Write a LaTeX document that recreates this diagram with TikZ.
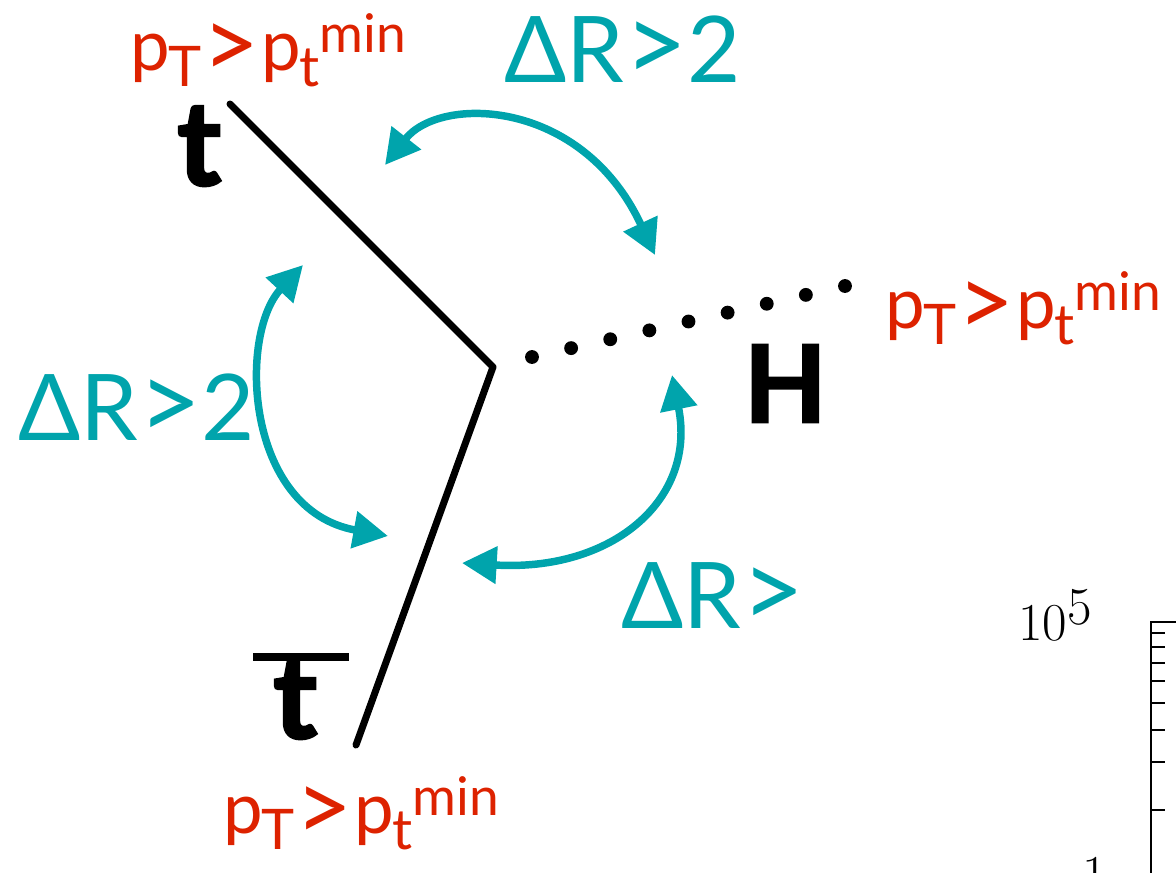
\documentclass[tikz,border=0pt]{standalone}
\usepackage{fontspec}
\setmainfont{Lato}
\newfontfamily\lmfont{Latin Modern Roman}
\newfontfamily\heavyfont[FakeBold=2.5]{Lato}
\usetikzlibrary{arrows.meta,calc}
\definecolor{ptred}{HTML}{DD2200}
\definecolor{drteal}{HTML}{00A4AC}
\newcommand{\mainsz}{\fontsize{53}{56}\selectfont}
\newcommand{\subsz}{\fontsize{42}{45}\selectfont}
\newcommand{\gtsz}{\fontsize{69}{72}\selectfont}
\newcommand{\tealgt}{{\fontsize{82}{84}\selectfont >}}
\newcommand{\ptmin}{{\mainsz p\kern-1pt\raisebox{-12pt}{\subsz T}\kern1pt\raisebox{-6pt}{\fontsize{74}{76}\selectfont >}\kern1pt p\kern-1pt\raisebox{-12pt}{\subsz t}\raisebox{13pt}{\fontsize{40}{42}\selectfont min}}}
\tikzset{
  ptlab/.style={text=ptred, inner sep=0pt, anchor=base west},
  drlab/.style={text=drteal, inner sep=0pt, anchor=base west, font=\gtsz},
  partlab/.style={inner sep=0pt, anchor=base west, font=\heavyfont\bfseries\fontsize{80}{84}\selectfont},
  quark/.style={line width=5.25pt, line cap=round, line join=round},
  drarrow/.style={draw=drteal, line width=5.6pt,
    {Triangle[length=26pt,width=27pt]}-{Triangle[length=26pt,width=27pt]}},
  axisline/.style={line width=1.8pt}
}
\begin{document}
\begin{tikzpicture}[x=0.75pt,y=-0.75pt]
\useasboundingbox (0,0) rectangle (1176,872);
% labels
\node[ptlab] (pt1) at (130,70) {\ptmin};
\node[ptlab] (pt2) at (885,328) {\ptmin};
\node[ptlab] (pt3) at (223,833) {\ptmin};
\node[drlab] (dr1) at (504,82) {ΔR\tealgt2};
\node[drlab] (dr2) at (18,440) {ΔR\tealgt2};
\node[drlab] (dr3) at (621,628) {ΔR\tealgt};
\node[partlab, font=\heavyfont\bfseries\fontsize{88}{90}\selectfont] (t) at (177,185) {t};
\node[partlab, font=\heavyfont\bfseries\fontsize{88}{90}\selectfont] (tb) at (273,738) {t};
\draw[line width=6.5pt] ($(tb.base west)+(-20,-81)$) -- ($(tb.base west)+(76,-81)$);
\node[partlab] (H) at (744,422) {H};
% particle lines
\coordinate (v) at (493,367);
\coordinate (tend) at (230,104);
\coordinate (tbend) at (356,745);
\draw[quark] (tend) -- (v) -- (tbend);
\coordinate (h0) at (532,357);
\coordinate (h1) at (845,286);
\foreach \i in {0,...,8} \fill ($(h0)!\i/8!(h1)$) circle[radius=5.2pt];
% Delta R arrows
\coordinate (a1s) at (385,165); \coordinate (a1e) at (655,255);
\draw[drarrow] (a1s) .. controls (440,95) and (582,98) .. (a1e);
\coordinate (a2s) at (303,265); \coordinate (a2e) at (388,536);
\draw[drarrow] (a2s) .. controls (238,335) and (245,510) .. (a2e);
\coordinate (a3s) at (462,563); \coordinate (a3e) at (672,375);
\draw[drarrow] (a3s) .. controls (612,572) and (697,500) .. (a3e);
% plot fragment
\node[inner sep=0pt, anchor=base west, font=\lmfont\fontsize{40}{42}\selectfont] (ylab) at (1018,640) {10\raisebox{12pt}{5}};
\node[inner sep=0pt, anchor=base west, font=\lmfont\fontsize{40}{42}\selectfont] (ylab2) at (1082,892) {1};
\coordinate (ax0) at (1176,622);
\coordinate (ax1) at (1151,622);
\coordinate (ax2) at (1151,880);
\draw[axisline] (ax0) -- (ax1) -- (ax2);
\foreach \y in {633,647,663,681,703,730,762,810}
  \draw[axisline] (1151,\y) -- (1165,\y);
\end{tikzpicture}
\end{document}
